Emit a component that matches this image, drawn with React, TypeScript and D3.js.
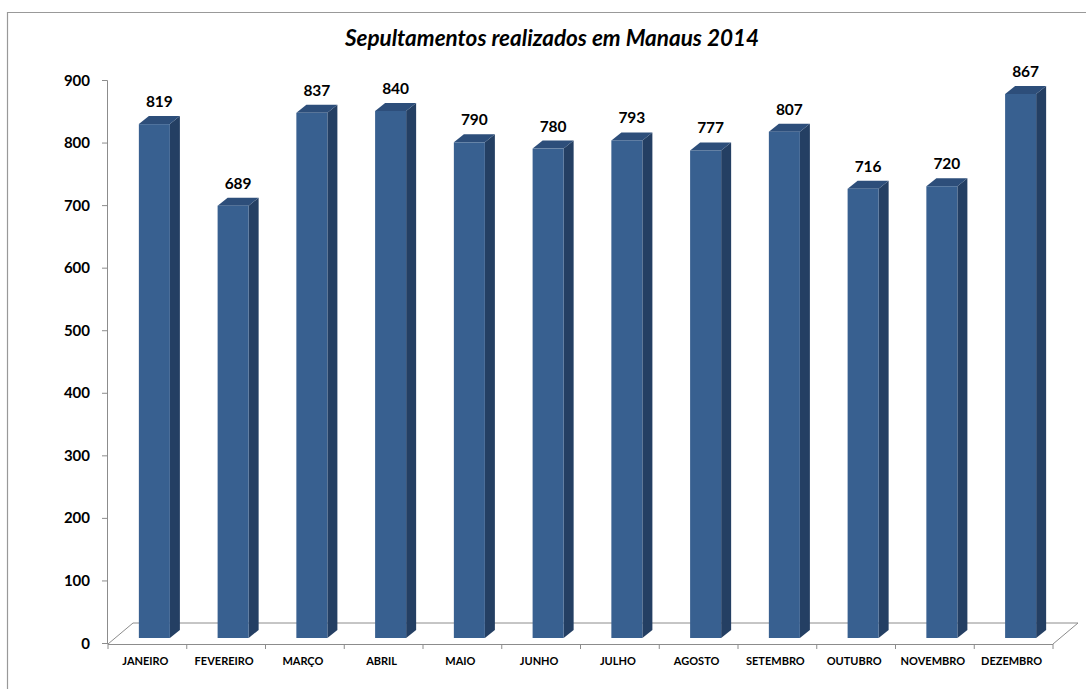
import React from "react";
import * as d3 from "d3";

const title = "Sepultamentos realizados em Manaus 2014";
const months = [
  "JANEIRO", "FEVEREIRO", "MARÇO", "ABRIL", "MAIO", "JUNHO",
  "JULHO", "AGOSTO", "SETEMBRO", "OUTUBRO", "NOVEMBRO", "DEZEMBRO",
];
const burials = [819, 689, 837, 840, 790, 780, 793, 777, 807, 716, 720, 867];
const yTicks = [0, 100, 200, 300, 400, 500, 600, 700, 800, 900];

const FONT = "Lato, 'Open Sans', sans-serif";
const front = "#386090";
const side = "#243f63";
const top = "#2d4e7a";
const axisGray = "#8c8c8c";

// floor geometry (front edge + depth offset)
const floorLeft = 108;
const floorRight = 1053;
const floorY = 644;
const depth = { dx: 25, dy: -21 };
const barDepth = { dx: 10, dy: -8 };

export default function App() {
  const x = d3.scaleBand<string>()
    .domain(months)
    .range([floorLeft, floorRight])
    .paddingInner(0.606)
    .paddingOuter(0.303);

  const xCat = d3.scaleBand<string>().domain(months).range([floorLeft, floorRight]);

  const yAxis = d3.scaleLinear().domain([0, 900]).range([643.5, 80.5]);
  const yBar = d3.scaleLinear().domain([0, 900]).range([638, 73.3]);

  const bw = x.bandwidth();

  return (
    <svg width={1086} height={689} style={{ position: "absolute", left: 0, top: 0, background: "#fff" }}>
      {/* chart frame */}
      <line x1={7} y1={12.5} x2={1086} y2={12.5} stroke="#999" strokeWidth={1.2} />
      <line x1={7.5} y1={12} x2={7.5} y2={689} stroke="#999" strokeWidth={1.2} />

      <text x={552} y={46} textAnchor="middle" fontFamily={FONT} fontWeight="bold"
        fontStyle="italic" fontSize={22.5} fill="#000">{title}</text>

      {/* floor */}
      <path
        d={`M${floorLeft},${floorY} L${floorLeft + depth.dx},${floorY + depth.dy} L${floorRight + depth.dx},${floorY + depth.dy} L${floorRight},${floorY}`}
        fill="none" stroke={axisGray} strokeWidth={1} />
      <line x1={floorLeft} y1={floorY + 0.5} x2={floorRight} y2={floorY + 0.5} stroke={axisGray} strokeWidth={1} />
      {months.map((m) => (
        <line key={"ct" + m} x1={xCat(m)!} x2={xCat(m)!} y1={floorY} y2={floorY + 5}
          stroke={axisGray} strokeWidth={1} />
      ))}
      <line x1={floorRight} x2={floorRight} y1={floorY} y2={floorY + 5} stroke={axisGray} />

      {/* y axis */}
      <line x1={107.5} y1={yAxis(900)} x2={107.5} y2={floorY} stroke={axisGray} strokeWidth={1} />
      {yTicks.map((t) => (
        <g key={"yt" + t}>
          <line x1={102} x2={107.5} y1={yAxis(t)} y2={yAxis(t)} stroke={axisGray} strokeWidth={1} />
          <text x={90} y={yAxis(t) + 5} textAnchor="end" fontFamily={FONT} fontWeight="bold"
            fontSize={15} fill="#000">{t}</text>
        </g>
      ))}

      {/* bars */}
      {months.map((m, i) => {
        const v = burials[i];
        const x0 = x(m)! + 7;
        const x1 = x0 + bw;
        const yT = yBar(v);
        const yB = yBar(0);
        const { dx, dy } = barDepth;
        return (
          <g key={m}>
            <path d={`M${x1},${yT} L${x1 + dx},${yT + dy} L${x1 + dx},${yB + dy} L${x1},${yB} Z`} fill={side} />
            <path d={`M${x0},${yT} L${x0 + dx},${yT + dy} L${x1 + dx},${yT + dy} L${x1},${yT} Z`} fill={top} />
            <rect x={x0} y={yT} width={bw} height={yB - yT} fill={front} />
            <text x={x0 + bw / 2 + 5} y={yT - 17} textAnchor="middle" fontFamily={FONT}
              fontWeight="bold" fontSize={15.5} fill="#000">{v}</text>
          </g>
        );
      })}

      {/* category labels */}
      {months.map((m) => (
        <text key={"cl" + m} x={xCat(m)! + xCat.bandwidth() / 2 - 2} y={665} textAnchor="middle"
          fontFamily={FONT} fontWeight="bold" fontSize={11} fill="#000">{m}</text>
      ))}
    </svg>
  );
}
